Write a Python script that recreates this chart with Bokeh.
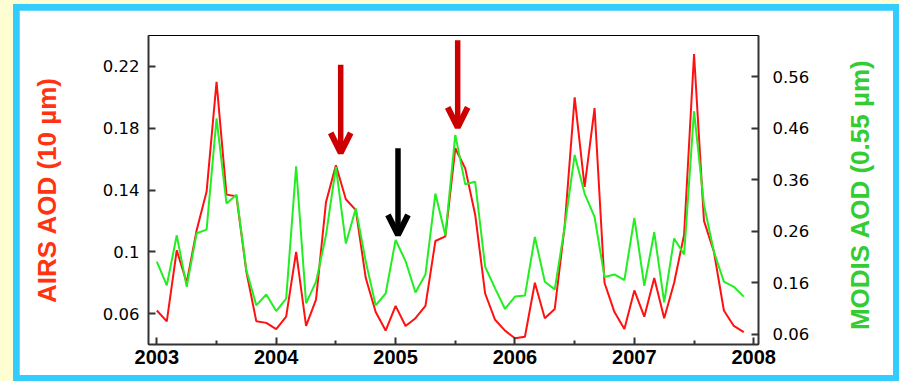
import math
from bokeh.plotting import figure
from bokeh.layouts import column
from bokeh.models import Range1d, LinearAxis, FixedTicker, Arrow, OpenHead
from bokeh.embed import file_html
from bokeh.resources import INLINE

# ---------------- data ----------------
years = [2003, 2004, 2005, 2006, 2007]
year_ticks = [2003, 2004, 2005, 2006, 2007, 2008]
year_labels = ["2003", "2004", "2005", "2006", "2007", "2008"]
half_year_ticks = [2003.5, 2004.5, 2005.5, 2006.5, 2007.5]

airs_ticks = [0.06, 0.10, 0.14, 0.18, 0.22]
airs_tick_labels = ["0.06", "0.1", "0.14", "0.18", "0.22"]
modis_ticks = [0.06, 0.16, 0.26, 0.36, 0.46, 0.56]
modis_tick_labels = ["0.06", "0.16", "0.26", "0.36", "0.46", "0.56"]

# AIRS AOD (10 um), monthly Jan 2003 - Dec 2007 (left axis)
airs = [
    0.062, 0.055, 0.101, 0.080, 0.114, 0.139, 0.210, 0.137, 0.136, 0.087, 0.055, 0.054,
    0.050, 0.058, 0.100, 0.052, 0.069, 0.132, 0.156, 0.134, 0.127, 0.083, 0.061, 0.049,
    0.065, 0.052, 0.057, 0.065, 0.107, 0.110, 0.167, 0.154, 0.124, 0.073, 0.056, 0.049,
    0.044, 0.045, 0.080, 0.057, 0.063, 0.117, 0.200, 0.142, 0.193, 0.080, 0.061, 0.050,
    0.075, 0.058, 0.083, 0.057, 0.080, 0.111, 0.228, 0.120, 0.100, 0.062, 0.052, 0.048,
]
# MODIS AOD (0.55 um), monthly Jan 2003 - Dec 2007 (right axis)
modis = [
    0.201, 0.155, 0.252, 0.152, 0.256, 0.263, 0.479, 0.314, 0.331, 0.184, 0.116, 0.137,
    0.105, 0.129, 0.386, 0.120, 0.162, 0.252, 0.385, 0.236, 0.304, 0.201, 0.116, 0.139,
    0.243, 0.202, 0.141, 0.176, 0.333, 0.252, 0.447, 0.351, 0.356, 0.191, 0.149, 0.109,
    0.133, 0.135, 0.249, 0.162, 0.147, 0.269, 0.408, 0.333, 0.288, 0.171, 0.176, 0.165,
    0.286, 0.154, 0.258, 0.122, 0.246, 0.215, 0.493, 0.311, 0.220, 0.162, 0.152, 0.133,
]

# arrows (x in years, y in AIRS-axis units)
arrow_x = [2004.54, 2005.52, 2005.02]
arrow_top = [0.221, 0.237, 0.167]
arrow_tip = [0.164, 0.1805, 0.111]
arrow_colors = ["#CC0000", "#CC0000", "#000000"]

t = [y + m / 12.0 for y in years for m in range(12)]

# ---------------- figure ----------------
X0, X1 = 2002.93, 2008.04
Y0, Y1 = 0.04, 0.24
M0, M1 = 0.04, 0.64

p = figure(width=874, height=365, x_range=Range1d(X0, X1), y_range=Range1d(Y0, Y1),
           output_backend="svg", toolbar_location=None,
           min_border_left=129, min_border_right=132, min_border_top=25, min_border_bottom=31,
           background_fill_color="white", border_fill_color="white",
           outline_line_color="black", outline_line_width=1)
p.extra_y_ranges = {"modis": Range1d(M0, M1)}
p.grid.visible = False

right = LinearAxis(y_range_name="modis")
p.add_layout(right, "right")

AX = "#333333"
for ax in [p.xaxis[0], p.yaxis[0], right]:
    ax.axis_line_width = 2
    ax.axis_line_color = AX
    ax.major_tick_in = 7
    ax.major_tick_out = 0
    ax.major_tick_line_width = 2
    ax.major_tick_line_color = AX
    ax.major_label_text_color = "black"

xa = p.xaxis[0]
xa.ticker = FixedTicker(ticks=year_ticks, minor_ticks=half_year_ticks)
xa.major_label_overrides = {k: v for k, v in zip(year_ticks, year_labels)}
xa.minor_tick_in = 4
xa.minor_tick_out = 0
xa.minor_tick_line_width = 2
xa.minor_tick_line_color = AX
xa.major_label_text_font = "Liberation Sans"
xa.major_label_text_font_style = "bold"
xa.major_label_text_font_size = "20px"
xa.major_label_standoff = 5

ya = p.yaxis[0]
ya.ticker = FixedTicker(ticks=airs_ticks)
ya.major_label_overrides = {k: v for k, v in zip(airs_ticks, airs_tick_labels)}
ya.minor_tick_line_color = None
ya.major_label_text_font = "DejaVu Sans"
ya.major_label_text_font_size = "16.5px"
ya.major_label_standoff = 9
ya.axis_label = "AIRS AOD (10 µm)"
ya.axis_label_text_font = "Liberation Sans"
ya.axis_label_text_font_style = "bold"
ya.axis_label_text_font_size = "26px"
ya.axis_label_text_color = "#FF3311"
ya.axis_label_standoff = 38

right.ticker = FixedTicker(ticks=modis_ticks)
right.major_label_overrides = {k: v for k, v in zip(modis_ticks, modis_tick_labels)}
right.minor_tick_line_color = None
right.major_label_text_font = "DejaVu Sans"
right.major_label_text_font_size = "16.5px"
right.major_label_standoff = 14
# two no-break spaces lift the bottom-anchored label slightly off the axis end
right.axis_label = "\u00a0\u00a0MODIS AOD (0.55 µm)"
right.axis_label_text_font = "Liberation Sans"
right.axis_label_text_font_style = "bold"
right.axis_label_text_font_size = "26px"
right.axis_label_text_color = "#33CC33"
right.axis_label_standoff = 48
right.axis_label_orientation = math.pi / 2   # read bottom-to-top, like the reference
right.axis_label_align = "start"

# series
p.line(t, airs, line_color="#FF1111", line_width=2)
p.line(t, modis, line_color="#22EE22", line_width=2, y_range_name="modis")

for x, y0, y1, c in zip(arrow_x, arrow_top, arrow_tip, arrow_colors):
    p.add_layout(Arrow(end=OpenHead(size=20, line_width=6, line_color=c),
                       x_start=x, y_start=y0, x_end=x, y_end=y1,
                       line_width=5.5, line_color=c))

# page frame: pale yellow page, light-blue border, white panel
inner = column(p, styles={"background-color": "#33CCFF", "padding": "6px"})
page = column(inner, styles={"background-color": "#FFFDD2", "padding-left": "13px",
                             "padding-top": "4px"})

open("out.html", "w", encoding="utf-8").write(file_html(page, INLINE))
